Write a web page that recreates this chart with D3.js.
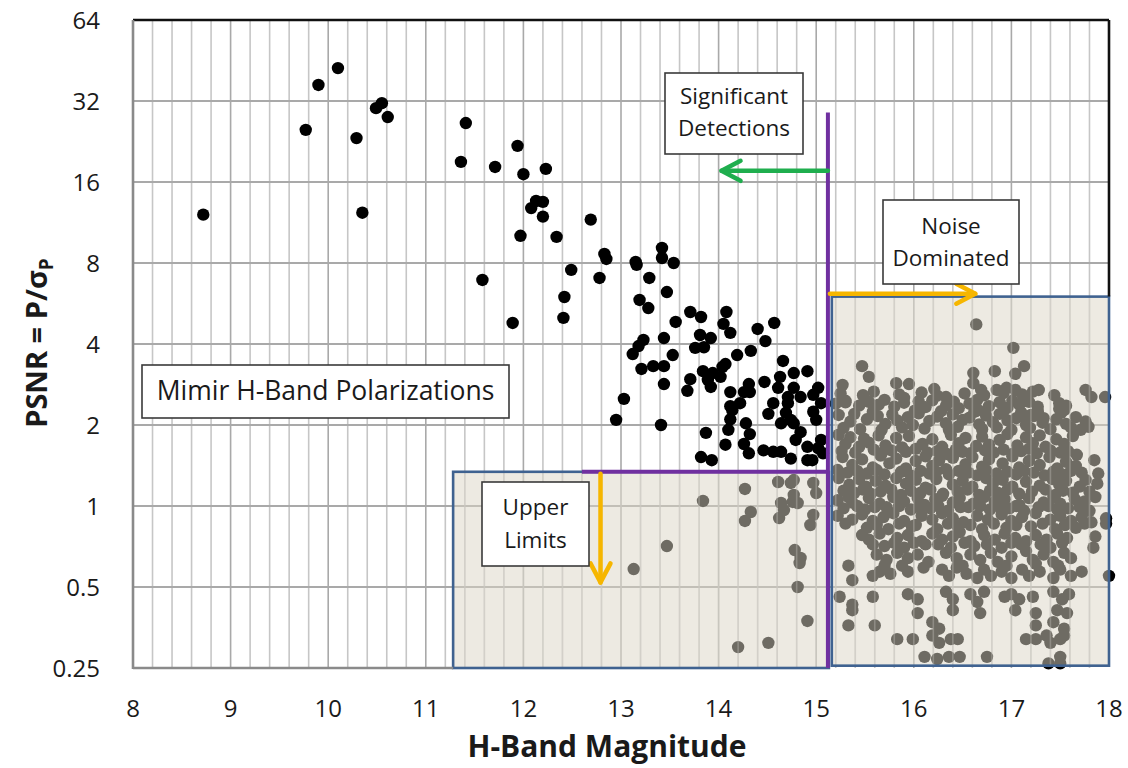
<!DOCTYPE html>
<html><head><meta charset="utf-8">
<script src="https://cdn.jsdelivr.net/npm/d3@7/dist/d3.min.js"></script>
<style>
body{margin:0;background:#fff}
text{font-family:"Open Sans","Liberation Sans",sans-serif;fill:#1a1a1a}
</style></head>
<body><svg id="chart" width="1128" height="768"></svg>
<script>
// ---------------- data ----------------
const xTicks=[8,9,10,11,12,13,14,15,16,17,18];
const yTicks=[0.25,0.5,1,2,4,8,16,32,64];
const yTickLabels=["0.25","0.5","1","2","4","8","16","32","64"];

// Significant detections (black points) [H mag, PSNR]
const detected=[
[8.72,12.1],[9.77,25.0],[9.90,36.7],[10.10,42.4],[10.29,23.3],[10.35,12.3],[10.49,30.1],[10.55,31.4],[10.61,27.9],
[11.41,26.5],[11.36,19.0],[11.94,21.8],[11.71,18.2],[12.00,17.1],[12.23,17.9],[12.13,13.6],[12.20,13.5],[12.08,12.8],[12.20,11.9],[12.69,11.6],[11.97,10.1],[12.34,10.0],[12.83,8.64],[12.85,8.28],[13.15,8.07],[13.16,7.87],[12.49,7.54],[12.78,7.04],[11.58,6.92],[12.42,5.98],[13.19,5.83],[12.41,5.0],[11.89,4.79],
[13.42,9.10],[13.42,8.35],[13.54,8.0],[13.29,7.04],[13.47,6.24],[13.28,5.44],[13.56,4.83],[13.71,5.26],[13.82,5.04],[14.08,5.26],[14.05,4.75],[14.12,4.40],[14.57,4.79],[14.40,4.55],[14.48,4.10],[13.81,4.32],[13.92,4.21],[13.44,4.21],[13.23,4.14],[13.18,3.93],[13.12,3.67],[13.76,3.87],[13.85,3.89],[13.53,3.64],[14.19,3.64],[14.33,3.77],[13.21,3.23],[13.33,3.31],[13.44,3.31],[13.44,2.84],[13.84,3.17],[13.94,3.12],[14.04,3.29],[14.07,3.37],[14.02,3.02],[13.89,2.94],[13.92,2.77],[13.71,2.96],[13.68,2.68],[14.66,3.46],[14.63,3.02],[14.77,3.12],[14.91,3.17],[14.47,2.89],[14.31,2.84],[14.61,2.75],[14.12,2.65],[14.26,2.65],[14.32,2.65],[14.77,2.75],[15.02,2.75],[14.97,2.59],[14.84,2.54],[14.71,2.54],[13.03,2.50],[14.56,2.41],[14.71,2.41],[15.05,2.41],[14.22,2.41],[14.12,2.35],[14.14,2.27],[14.97,2.24],[14.69,2.22],[14.51,2.20],[14.74,2.09],[14.12,2.10],[15.00,2.09],[12.95,2.09],[13.41,2.00],[14.64,2.03],[14.77,2.03],[14.28,2.03],[14.84,1.88],[14.10,1.92],[14.32,1.85],[13.87,1.87],[14.79,1.76],[15.05,1.76],[15.02,1.64],[14.91,1.66],[14.07,1.69],[14.26,1.70],[14.31,1.57],[14.46,1.61],[14.56,1.59],[14.64,1.59],[14.74,1.50],[14.91,1.48],[14.96,1.48],[13.82,1.52],[13.93,1.48],[15.07,1.57]
];

// Upper limits (points inside the lower-left shaded box)
const upperLimits=[
[14.27,1.157],[13.84,1.044],[14.33,0.950],[14.27,0.880],[14.62,0.902],[14.64,1.026],[14.67,0.966],[14.76,1.035],[14.77,1.099],[14.81,1.026],[14.74,1.218],[14.61,1.228],[14.77,1.249],[14.97,1.218],[15.00,1.117],[14.94,0.850],[14.97,0.926],[13.47,0.710],[13.13,0.583],[14.78,0.686],[14.84,0.641],[14.83,0.614],[14.81,0.50],[14.91,0.374],[14.20,0.299],[14.51,0.310]
];

// Noise dominated (points inside the right shaded box)
const noiseDominated=[
[16.64,4.73],[17.02,3.87],[15.47,3.31],[15.54,3.02],[16.61,3.12],[16.83,3.17],[17.13,3.31],[17.04,3.10],[15.27,2.82],[15.82,2.86],[15.95,2.84],[16.21,2.72],[16.61,2.86],[17.76,2.70],[17.82,2.54],[17.96,2.54],[17.28,2.70],[17.15,2.54],[16.69,2.70],[16.85,2.70],[16.95,2.75],[17.04,2.70],[16.33,2.54],[15.90,2.52],[15.30,2.43],[16.66,2.27],[17.49,2.30],[17.54,2.27],[17.33,2.12],[17.13,2.14],[17.20,2.18],[17.79,1.97],[17.67,1.55],[17.85,1.48],[17.89,1.32],
[15.20,2.40],[15.30,2.46],[15.44,2.36],[15.54,2.44],[15.64,2.38],[15.70,2.48],[15.80,2.34],[15.90,2.42],[16.05,2.45],[16.12,2.33],[16.19,2.47],[16.33,2.36],[16.41,2.44],[16.46,2.31],[16.57,2.40],[16.65,2.48],[16.77,2.35],[16.88,2.43],[16.96,2.32],[17.01,2.46],[17.08,2.38],[17.18,2.44],[17.27,2.34],[17.49,2.41],[17.56,2.36],
[15.25,2.62],[15.48,2.58],[15.59,2.66],[15.85,2.60],[16.08,2.64],[16.24,2.57],[16.52,2.62],[16.72,2.58],[16.92,2.63],[17.11,2.60],[17.22,2.66],[17.44,2.58],
[15.23,2.18],[15.35,2.06],[15.39,2.20],[15.52,2.10],[15.63,2.16],[15.71,2.02],[15.78,2.19],[15.83,2.08],[15.94,2.14],[15.99,2.00],[16.05,2.21],[16.16,2.07],[16.24,2.15],[16.33,2.03],[16.40,2.19],[16.50,2.09],[16.57,2.13],[16.67,2.01],[16.74,2.17],[16.81,2.05],[16.88,2.20],[16.96,2.08],[17.05,2.12],[17.15,2.00],[17.23,2.16],[17.32,2.04],[17.46,2.10],[17.56,2.02],[17.66,2.14],[17.76,2.06],
[15.28,1.95],[15.45,1.93],[15.58,2.24],[15.67,1.92],[15.88,1.96],[16.01,2.26],[16.11,1.94],[16.28,2.25],[16.36,1.92],[16.45,1.97],[16.62,2.24],[16.70,1.93],[16.85,1.96],[16.92,2.25],[17.00,1.92],[17.10,2.23],[17.19,1.95],[17.27,2.25],[17.40,1.93],[17.51,2.22],[17.61,1.96],[17.71,1.92],
[15.23,1.84],[15.30,1.70],[15.35,1.80],[15.44,1.66],[15.49,1.78],[15.54,1.72],[15.64,1.83],[15.71,1.68],[15.82,1.79],[15.88,1.65],[15.95,1.82],[16.09,1.70],[16.19,1.77],[16.29,1.66],[16.38,1.84],[16.46,1.71],[16.53,1.79],[16.64,1.67],[16.70,1.81],[16.77,1.69],[16.88,1.76],[16.96,1.85],[17.06,1.68],[17.15,1.80],[17.22,1.71],[17.29,1.83],[17.35,1.66],[17.46,1.77],[17.54,1.70],[17.63,1.82],
[15.26,1.60],[15.40,1.58],[15.59,1.62],[15.67,1.57],[15.77,1.61],[15.92,1.59],[16.02,1.63],[16.14,1.58],[16.24,1.60],[16.34,1.56],[16.43,1.62],[16.50,1.59],[16.58,1.57],[16.73,1.61],[16.82,1.58],[16.92,1.62],[17.01,1.56],[17.10,1.60],[17.18,1.63],[17.26,1.57],[17.40,1.61],[17.50,1.58],[17.58,1.60],
[15.27,1.52],[15.37,1.42],[15.47,1.49],[15.58,1.39],[15.66,1.54],[15.75,1.44],[15.82,1.50],[15.92,1.38],[16.02,1.47],[16.12,1.53],[16.19,1.41],[16.26,1.48],[16.33,1.37],[16.40,1.51],[16.53,1.43],[16.60,1.52],[16.70,1.40],[16.77,1.49],[16.91,1.44],[17.01,1.53],[17.08,1.39],[17.18,1.47],[17.29,1.42],[17.39,1.52],[17.47,1.38],[17.56,1.46],[17.66,1.41],
[15.22,1.36],[15.32,1.33],[15.42,1.35],[15.52,1.32],[15.62,1.36],[15.70,1.31],[15.87,1.34],[15.97,1.30],[16.07,1.35],[16.16,1.32],[16.23,1.34],[16.36,1.31],[16.46,1.35],[16.56,1.33],[16.65,1.30],[16.74,1.36],[16.85,1.32],[16.96,1.34],[17.05,1.31],[17.13,1.35],[17.23,1.33],[17.34,1.30],[17.43,1.34],[17.52,1.31],[17.61,1.35],[17.72,1.33],
[15.23,1.27],[15.34,1.20],[15.44,1.26],[15.51,1.18],[15.61,1.24],[15.71,1.19],[15.82,1.27],[15.92,1.21],[16.02,1.25],[16.12,1.17],[16.23,1.26],[16.40,1.20],[16.50,1.24],[16.60,1.18],[16.74,1.27],[16.81,1.21],[16.91,1.25],[17.01,1.18],[17.15,1.23],[17.29,1.19],[17.42,1.26],[17.49,1.20],[17.56,1.24],[17.70,1.18],[17.76,1.25],[17.88,1.21],
[15.28,1.14],[15.39,1.12],[15.48,1.15],[15.56,1.11],[15.66,1.13],[15.77,1.15],[15.87,1.10],[15.97,1.14],[16.07,1.12],[16.17,1.15],[16.30,1.11],[16.45,1.13],[16.55,1.15],[16.67,1.10],[16.78,1.14],[16.86,1.12],[16.96,1.15],[17.08,1.11],[17.21,1.13],[17.35,1.15],[17.45,1.10],[17.53,1.14],[17.63,1.12],[17.80,1.13],
[15.22,1.05],[15.33,1.08],[15.37,1.03],[15.54,1.07],[15.65,1.02],[15.79,1.08],[15.90,1.04],[16.04,1.07],[16.11,1.01],[16.22,1.06],[16.29,1.09],[16.40,1.03],[16.47,1.07],[16.61,1.02],[16.72,1.08],[16.83,1.04],[16.93,1.06],[17.08,1.01],[17.18,1.07],[17.33,1.03],[17.43,1.08],[17.50,1.02],[17.65,1.06],[17.75,1.04],[17.86,1.08],
[15.42,1.00],[15.60,0.99],[15.85,1.00],[16.05,0.99],[16.25,1.00],[16.48,0.99],[16.68,1.00],[16.88,0.99],[17.05,1.00],[17.38,1.00],[17.70,0.99],
[15.28,0.98],[15.50,0.97],[15.72,0.99],[15.97,0.97],[16.17,0.98],[16.35,0.96],[16.56,0.99],[16.78,0.97],[16.98,0.98],[17.13,0.96],[17.28,0.99],[17.47,0.97],[17.58,0.98],[17.80,0.96],
[15.22,0.92],[15.37,0.89],[15.47,0.93],[15.58,0.88],[15.69,0.91],[15.79,0.94],[15.90,0.88],[16.08,0.92],[16.19,0.89],[16.29,0.94],[16.40,0.90],[16.51,0.87],[16.65,0.92],[16.76,0.89],[16.90,0.93],[17.00,0.88],[17.11,0.91],[17.25,0.94],[17.40,0.89],[17.50,0.92],[17.61,0.88],[17.72,0.91],[17.82,0.87],[17.97,0.90],
[15.30,0.86],[15.62,0.85],[15.85,0.86],[16.02,0.85],[16.35,0.86],[16.58,0.85],[16.82,0.86],[17.05,0.85],[17.32,0.86],[17.55,0.85],[17.75,0.86],
[15.52,0.83],[15.74,0.82],[15.98,0.84],[16.24,0.82],[16.45,0.84],[16.70,0.82],[16.95,0.83],[17.20,0.84],[17.45,0.82],[17.66,0.83],
[15.47,0.78],[15.54,0.75],[15.65,0.79],[15.83,0.76],[15.94,0.78],[16.08,0.74],[16.19,0.79],[16.29,0.75],[16.40,0.77],[16.47,0.80],[16.58,0.74],[16.72,0.78],[16.83,0.75],[16.93,0.79],[17.04,0.76],[17.15,0.74],[17.25,0.78],[17.36,0.75],[17.47,0.79],[17.57,0.76],[17.86,0.77],
[15.58,0.72],[15.80,0.73],[16.00,0.73],[16.25,0.72],[16.52,0.73],[16.75,0.72],[17.00,0.73],[17.30,0.72],[17.52,0.73],
[15.70,0.71],[15.90,0.70],[16.12,0.72],[16.38,0.70],[16.62,0.71],[16.90,0.70],[17.10,0.72],[17.40,0.70],[17.84,0.70],[17.97,0.86],
[15.62,0.66],[15.72,0.63],[15.83,0.67],[15.94,0.64],[16.04,0.66],[16.15,0.62],[16.33,0.67],[16.44,0.64],[16.58,0.66],[16.68,0.63],[16.79,0.67],[16.86,0.62],[17.00,0.65],[17.15,0.68],[17.22,0.63],[17.33,0.66],[17.43,0.62],[17.54,0.67],[17.61,0.64],
[15.70,0.60],[15.88,0.60],[16.10,0.59],[16.50,0.60],[16.95,0.60],[17.25,0.61],[17.48,0.60],
[15.33,0.60],[15.37,0.53],[15.58,0.55],[15.65,0.57],[15.76,0.56],[15.94,0.57],[16.29,0.58],[16.36,0.55],[16.44,0.59],[16.54,0.56],[16.65,0.54],[16.72,0.58],[16.79,0.55],[16.90,0.57],[17.00,0.54],[17.11,0.58],[17.18,0.55],[17.29,0.57],[17.43,0.54],[17.50,0.58],[17.61,0.55],[17.72,0.57],
[15.24,0.46],[15.37,0.43],[15.58,0.46],[15.94,0.47],[16.04,0.45],[16.33,0.48],[16.40,0.45],[16.58,0.47],[16.65,0.44],[16.72,0.48],[16.93,0.46],[17.00,0.47],[17.08,0.45],[17.22,0.46],[17.43,0.48],[17.52,0.45],[17.59,0.47],
[15.37,0.41],[16.04,0.40],[16.40,0.41],[16.68,0.40],[17.04,0.41],[17.25,0.40],[17.47,0.41],[17.57,0.40],
[15.33,0.36],[15.60,0.36],[16.19,0.37],[16.26,0.35],[17.25,0.36],[17.43,0.37],[17.54,0.35],
[15.83,0.32],[15.99,0.32],[16.19,0.33],[16.26,0.31],[16.38,0.32],[16.45,0.32],[17.15,0.32],[17.25,0.32],[17.36,0.33],[17.40,0.31],[17.50,0.32],[17.54,0.33],
[16.11,0.275],[16.24,0.27],[16.36,0.275],[16.47,0.275],[16.75,0.275],[17.50,0.275],[17.38,0.26],[17.50,0.26],
[18.00,0.55]
];

// thresholds / region limits
const magLimit=15.12;       // vertical purple line
const magLimitTop=29;       // top of the purple line (PSNR)
const psnrLimit=1.34;       // horizontal purple line / top of upper-limit box
const psnrLimitStart=12.6;  // start of horizontal purple line (mag)
const upperBox={x0:11.28,x1:15.13,y0:0.25,y1:1.34};
const noiseBox={x0:15.16,x1:18.0,y0:0.255,y1:6.0};

// ---------------- chart ----------------
const svg=d3.select("#chart");
const x=d3.scaleLinear().domain([8,18]).range([133,1109]);
const y=d3.scaleLog().base(2).domain([0.25,64]).range([668,20]);
const L=x(8),R=x(18),T=y(64),B=y(0.25);

// grid
const grid=svg.append("g");
const minor=d3.range(8.2,17.9,0.2).filter(v=>Math.abs(v-Math.round(v))>0.01);
grid.selectAll(".vmin").data(minor).join("line")
  .attr("x1",d=>x(d)).attr("x2",d=>x(d)).attr("y1",T).attr("y2",B)
  .attr("stroke","#c6c6c6").attr("stroke-width",1.6);
grid.selectAll(".vmaj").data(xTicks.slice(1,-1)).join("line")
  .attr("x1",d=>x(d)).attr("x2",d=>x(d)).attr("y1",T).attr("y2",B)
  .attr("stroke","#a9a9a9").attr("stroke-width",1.6);
grid.selectAll(".h").data(yTicks.slice(1,-1)).join("line")
  .attr("x1",L).attr("x2",R).attr("y1",d=>y(d)).attr("y2",d=>y(d))
  .attr("stroke","#a9a9a9").attr("stroke-width",1.8);

// points (all drawn black; shaded boxes dim those inside them)
const pts=svg.append("g");
const allPts=detected.concat(upperLimits,noiseDominated);
pts.selectAll("circle").data(allPts).join("circle")
  .attr("cx",d=>x(d[0])).attr("cy",d=>y(d[1])).attr("r",6.2).attr("fill","#000");

// shaded boxes
function boxRect(b){return {x:x(b.x0),y:y(b.y1),w:x(b.x1)-x(b.x0),h:y(b.y0)-y(b.y1)};}
const boxes=[boxRect(upperBox),boxRect(noiseBox)];
svg.append("g").selectAll("rect").data(boxes).join("rect")
  .attr("x",d=>d.x).attr("y",d=>d.y).attr("width",d=>d.w).attr("height",d=>d.h)
  .attr("fill","rgb(220,214,198)").attr("fill-opacity",0.5);
// faint grid showing through the boxes
const gOver=svg.append("g").attr("opacity",0.3);
boxes.forEach(b=>{
  const vals=d3.range(8.2,17.9,0.2).filter(v=>x(v)>b.x+1&&x(v)<b.x+b.w-1);
  gOver.selectAll(null).data(vals).join("line")
    .attr("x1",d=>x(d)).attr("x2",d=>x(d)).attr("y1",b.y).attr("y2",b.y+b.h)
    .attr("stroke","#d8d6d0").attr("stroke-width",1.6);
});
svg.append("g").selectAll("rect").data(boxes).join("rect")
  .attr("x",d=>d.x).attr("y",d=>d.y).attr("width",d=>d.w).attr("height",d=>d.h)
  .attr("fill","none").attr("stroke","#3f6290").attr("stroke-width",2.6);

// axes frame
svg.append("line").attr("x1",L).attr("x2",R).attr("y1",T).attr("y2",T).attr("stroke","#111").attr("stroke-width",2.6);
svg.append("line").attr("x1",R).attr("x2",R).attr("y1",T).attr("y2",y(noiseBox.y1)).attr("stroke","#111").attr("stroke-width",2.6);
svg.append("line").attr("x1",L).attr("x2",L).attr("y1",T).attr("y2",B+1).attr("stroke","#8a8a8a").attr("stroke-width",2.6);
svg.append("line").attr("x1",L).attr("x2",x(upperBox.x0)).attr("y1",B).attr("y2",B).attr("stroke","#8a8a8a").attr("stroke-width",2.6);

// purple threshold lines
svg.append("line").attr("x1",x(magLimit)).attr("x2",x(magLimit)).attr("y1",y(magLimitTop)).attr("y2",B)
  .attr("stroke","#7030a0").attr("stroke-width",4);
svg.append("line").attr("x1",x(psnrLimitStart)).attr("x2",x(magLimit)).attr("y1",y(psnrLimit)).attr("y2",y(psnrLimit))
  .attr("stroke","#7030a0").attr("stroke-width",4);

// arrows
function arrow(x1,y1,x2,y2,color){
  const g=svg.append("g").attr("stroke",color).attr("stroke-width",4.5).attr("fill","none").attr("stroke-linecap","round").attr("stroke-linejoin","round");
  g.append("line").attr("x1",x1).attr("y1",y1).attr("x2",x2).attr("y2",y2);
  const a=Math.atan2(y2-y1,x2-x1),len=19,hw=10;
  const bx=x2-len*Math.cos(a),by=y2-len*Math.sin(a);
  const px=-Math.sin(a)*hw,py=Math.cos(a)*hw;
  g.append("path").attr("d",`M${bx+px},${by+py}L${x2},${y2}L${bx-px},${by-py}`);
}
arrow(x(magLimit),y(17.6),x(14.03),y(17.6),"#1fae4e");
arrow(x(magLimit)+2,y(6.15),x(16.63),y(6.15),"#f6b600");
arrow(x(12.79),y(psnrLimit)+2,x(12.79),y(0.52),"#f6b600");

// annotation boxes
const notes=[
  {x:665,y:73,w:138,h:81,lines:["Significant","Detections"],base:[104,136],fs:22.5},
  {x:883,y:200,w:136,h:84,lines:["Noise","Dominated"],base:[234,266],fs:22.5},
  {x:482,y:482,w:107,h:84,lines:["Upper","Limits"],base:[515,548],fs:22.5},
  {x:142,y:365,w:367,h:53,lines:["Mimir H-Band Polarizations"],base:[400],fs:26.5}
];
notes.forEach(n=>{
  svg.append("rect").attr("x",n.x).attr("y",n.y).attr("width",n.w).attr("height",n.h)
    .attr("fill","#fff").attr("stroke","#3a3a3a").attr("stroke-width",1.6);
  n.lines.forEach((t,i)=>svg.append("text").attr("x",n.x+n.w/2).attr("y",n.base[i])
    .attr("text-anchor","middle").attr("font-size",n.fs).text(t));
});

// tick labels
svg.append("g").selectAll("text").data(yTicks).join("text")
  .attr("x",100).attr("y",d=>y(d)).attr("dy","0.36em").attr("text-anchor","end")
  .attr("font-size",24).text((d,i)=>yTickLabels[i]);
svg.append("g").selectAll("text").data(xTicks).join("text")
  .attr("x",d=>x(d)).attr("y",717).attr("text-anchor","middle")
  .attr("font-size",24).text(d=>d);

// axis titles
svg.append("text").attr("x",607).attr("y",757).attr("text-anchor","middle")
  .attr("font-size",30).attr("font-weight","bold").text("H-Band Magnitude");
const yt=svg.append("text").attr("transform","translate(47,343) rotate(-90)")
  .attr("text-anchor","middle").attr("font-size",29).attr("font-weight","bold");
yt.append("tspan").text("PSNR = P/σ");
yt.append("tspan").attr("font-size",19).attr("dy",6).text("P");
</script></body></html>
